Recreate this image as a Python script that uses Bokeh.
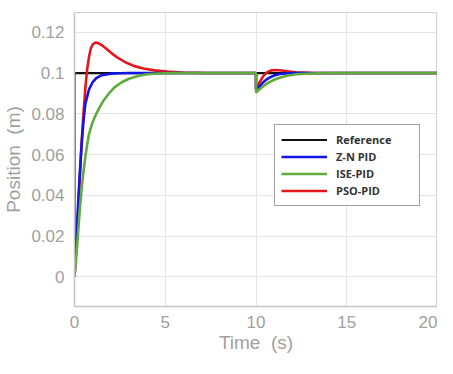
from bokeh.plotting import figure
from bokeh.models import Legend, LegendItem, FixedTicker, Range1d
from bokeh.embed import file_html
from bokeh.resources import INLINE

# ---- data ----
t_ref = [0, 0, 20]
y_ref = [0, 0.1, 0.1]

t_zn = [0, 0.1, 0.2, 0.3, 0.4, 0.5, 0.6, 0.8, 1.0, 1.2, 1.5, 2.0, 2.5, 3.0, 10,
        10, 10.2, 10.4, 10.6, 10.8, 11.0, 11.3, 11.6, 12, 13, 20]
y_zn = [0, 0.018, 0.036, 0.052, 0.066, 0.077, 0.085, 0.092, 0.0955, 0.0975, 0.099,
        0.0997, 0.0999, 0.1, 0.1,
        0.0921, 0.0935, 0.0955, 0.097, 0.098, 0.0988, 0.0995, 0.0998, 0.1, 0.1, 0.1]

t_ise = [0, 0.1, 0.2, 0.3, 0.4, 0.5, 0.6, 0.7, 0.8, 1.0, 1.2, 1.4, 1.6, 1.9, 2.2,
         2.6, 3.0, 3.5, 4.0, 4.6, 5.5, 10,
         10, 10.2, 10.4, 10.6, 10.8, 11.0, 11.3, 11.7, 12.2, 13, 14, 20]
y_ise = [0, 0.01, 0.022, 0.034, 0.044, 0.052, 0.059, 0.065, 0.07, 0.076, 0.08,
         0.0835, 0.0865, 0.09, 0.093, 0.0955, 0.0972, 0.0986, 0.0994, 0.0998, 0.1, 0.1,
         0.0905, 0.092, 0.0935, 0.0948, 0.0958, 0.0967, 0.0977, 0.0987, 0.0994,
         0.0998, 0.1, 0.1]

t_pso = [0, 0.1, 0.2, 0.3, 0.4, 0.5, 0.6, 0.7, 0.8, 0.9, 1.0, 1.15, 1.3, 1.5, 1.8,
         2.1, 2.4, 2.8, 3.3, 3.8, 4.4, 5.1, 6, 7, 8, 10,
         10, 10.2, 10.4, 10.6, 10.8, 11.0, 11.3, 11.7, 12.2, 13, 14, 20]
y_pso = [0, 0.015, 0.032, 0.05, 0.067, 0.081, 0.093, 0.102, 0.108, 0.112, 0.114,
         0.115, 0.1147, 0.1137, 0.1115, 0.1093, 0.1074, 0.1053, 0.1034, 0.1022,
         0.1013, 0.1007, 0.1003, 0.1001, 0.1, 0.1,
         0.092, 0.0955, 0.0985, 0.1003, 0.1012, 0.1015, 0.1014, 0.1009, 0.1004,
         0.1001, 0.1, 0.1]

x_ticks = [0, 5, 10, 15, 20]
y_ticks = [0, 0.02, 0.04, 0.06, 0.08, 0.1, 0.12]
y_tick_labels = ["0", "0.02", "0.04", "0.06", "0.08", "0.1", "0.12"]
series_names = ["Reference", "Z-N PID", "ISE-PID", "PSO-PID"]

FONT = "Liberation Sans"
GRAY = "#a0a0a0"
NB = "\u00a0"

p = figure(width=437, height=358, output_backend="svg", toolbar_location=None,
           x_range=Range1d(0, 20), y_range=Range1d(-0.0145, 0.1297),
           min_border_left=73, min_border_right=0, min_border_top=12,
           min_border_bottom=52)

p.background_fill_color = "white"
p.border_fill_color = "white"
p.outline_line_color = "#cfcfcf"
p.outline_line_width = 1

r_ref = p.line(t_ref, y_ref, line_color="#111111", line_width=2.2)
r_pso = p.line(t_pso, y_pso, line_color="#e8141c", line_width=2.6)
r_zn = p.line(t_zn, y_zn, line_color="#1414e6", line_width=2.6)
r_ise = p.line(t_ise, y_ise, line_color="#5fab3c", line_width=2.6)

for ax in (p.xaxis[0], p.yaxis[0]):
    ax.axis_line_color = "#c4c4c4"
    ax.axis_line_width = 1.5
    ax.major_tick_line_color = None
    ax.minor_tick_line_color = None
    ax.major_tick_in = 0
    ax.major_tick_out = 0
    ax.major_label_text_font = FONT
    ax.major_label_text_font_size = "17px"
    ax.major_label_text_color = GRAY
    ax.axis_label_text_font = FONT
    ax.axis_label_text_font_size = "19px"
    ax.axis_label_text_color = GRAY
    ax.axis_label_text_font_style = "normal"

p.xaxis.ticker = FixedTicker(ticks=x_ticks)
p.yaxis.ticker = FixedTicker(ticks=y_ticks)
p.yaxis.major_label_overrides = {v: s for v, s in zip(y_ticks, y_tick_labels)}
p.xaxis.major_label_standoff = 9
p.yaxis.major_label_standoff = 10
p.xaxis.axis_label = "Time" + NB + NB + "(s)"
p.yaxis.axis_label = "Position" + NB + NB + "(m)"
p.xaxis.axis_label_standoff = 1
p.yaxis.axis_label_standoff = 4

p.xgrid.ticker = FixedTicker(ticks=x_ticks)
p.ygrid.ticker = FixedTicker(ticks=y_ticks)
p.grid.grid_line_color = "#e4e4e4"
p.grid.grid_line_width = 1

legend = Legend(items=[
    LegendItem(label=series_names[0], renderers=[r_ref]),
    LegendItem(label=series_names[1], renderers=[r_zn]),
    LegendItem(label=series_names[2], renderers=[r_ise]),
    LegendItem(label=series_names[3], renderers=[r_pso]),
], location=(200, 100))
legend.label_text_font = "Open Sans"
legend.label_text_font_size = "11px"
legend.label_text_font_style = "bold"
legend.label_text_color = "#333333"
legend.glyph_width = 46
legend.glyph_height = 17
legend.label_height = 17
legend.label_width = 77
legend.label_standoff = 9
legend.spacing = 0
legend.padding = 6
legend.margin = 0
legend.border_line_color = "#444444"
legend.border_line_width = 1
legend.background_fill_alpha = 1
p.add_layout(legend, "center")

open("out.html", "w").write(file_html(p, INLINE))
